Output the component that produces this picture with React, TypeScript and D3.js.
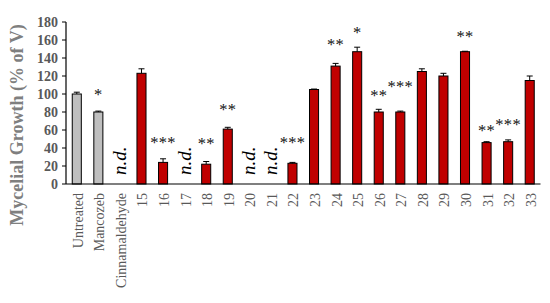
import React from "react";
import * as d3 from "d3";

const categories = ["Untreated", "Mancozeb", "Cinnamaldehyde", "15", "16", "17", "18", "19", "20", "21", "22", "23", "24", "25", "26", "27", "28", "29", "30", "31", "32", "33"];
const growth = [100, 80, null, 123, 24, null, 22, 61, null, null, 23, 105, 131, 147, 80, 80, 125, 120, 147, 46, 47, 115];
const errors = [2, 1, 0, 5, 4, 0, 3, 2, 0, 0, 1, 0.5, 3, 5, 3, 1, 3, 3, 0.5, 1, 2, 5];
const marks = ["", "*", "n.d.", "", "***", "n.d.", "**", "**", "n.d.", "n.d.", "***", "", "**", "*", "**", "***", "", "", "**", "**", "***", ""];
// how far the significance stars sit above each bar (px)
const markGap = [0, 20, 0, 0, 22, 0, 23, 22, 0, 0, 23, 0, 24, 22, 19, 28, 0, 0, 18, 15, 20, 0];
const controls = ["Untreated", "Mancozeb", "Cinnamaldehyde"];
const yTicks = [0, 20, 40, 60, 80, 100, 120, 140, 160, 180];

const W = 550;
const H = 303;
const margin = { top: 22, right: 10, bottom: 120, left: 66 };
const serif = { fontFamily: "Liberation Serif, DejaVu Serif, serif" };

export default function App() {
  const x = d3
    .scaleBand()
    .domain(categories)
    .range([margin.left, 540.5])
    .paddingInner(0)
    .paddingOuter(0);
  const y = d3.scaleLinear().domain([0, 180]).range([184, margin.top]);
  const bw = x.bandwidth() * 0.42;

  return (
    <svg width={W} height={H} style={{ position: "absolute", left: 0, top: 0, background: "#fff" }}>
      {/* y axis label */}
      <text
        transform="translate(23,125) rotate(-90)"
        textAnchor="middle"
        style={serif}
        fontWeight="bold"
        fontSize={18}
        fill="#7f7f7f"
      >
        Mycelial Growth (% of V)
      </text>

      {/* y ticks */}
      {yTicks.map((t) => (
        <g key={t}>
          <line x1={margin.left - 4} x2={margin.left} y1={y(t)} y2={y(t)} stroke="#000" strokeWidth={1} />
          <text
            x={margin.left - 8}
            y={y(t)}
            dy="0.34em"
            textAnchor="end"
            style={serif}
            fontWeight="bold"
            fontSize={14}
            fill="#595959"
          >
            {t}
          </text>
        </g>
      ))}

      {/* bars */}
      {categories.map((c, i) => {
        const v = growth[i];
        const cx = (x(c) as number) + x.bandwidth() / 2;
        const isCtrl = controls.includes(c);
        const m = marks[i];
        if (v == null) {
          return (
            <text
              key={c}
              transform={`translate(${cx + 6},${y(0) - 9}) rotate(-90)`}
              style={serif}
              fontStyle="italic"
              fontSize={19}
              fill="#000"
            >
              {m}
            </text>
          );
        }
        const e = errors[i];
        return (
          <g key={c}>
            <rect
              x={cx - bw / 2}
              y={y(v)}
              width={bw}
              height={y(0) - y(v)}
              fill={isCtrl ? "#bfbfbf" : "#c00000"}
              stroke="#000"
              strokeWidth={1}
            />
            {e > 0 && (
              <g stroke="#000" strokeWidth={1}>
                <line x1={cx} x2={cx} y1={y(v)} y2={y(v + e)} />
                <line x1={cx - 3} x2={cx + 3} y1={y(v + e)} y2={y(v + e)} />
              </g>
            )}
            {m && (
              <text
                x={cx}
                y={y(v) - markGap[i] + 8}
                textAnchor="middle"
                style={serif}
                fontSize={16.5}
                letterSpacing={0.3}
                fill="#111"
              >
                {m}
              </text>
            )}
          </g>
        );
      })}

      {/* axes */}
      <line x1={margin.left} x2={540.5} y1={y(0)} y2={y(0)} stroke="#000" strokeWidth={1.2} />
      <line x1={margin.left} x2={margin.left} y1={y(0)} y2={y(180)} stroke="#000" strokeWidth={1.2} />

      {/* x labels */}
      {categories.map((c) => {
        const cx = (x(c) as number) + x.bandwidth() / 2;
        return (
          <text
            key={c}
            transform={`translate(${cx + 6},${y(0) + 9}) rotate(-90)`}
            textAnchor="end"
            style={serif}
            fontSize={14}
            fill="#595959"
          >
            {c}
          </text>
        );
      })}
    </svg>
  );
}
